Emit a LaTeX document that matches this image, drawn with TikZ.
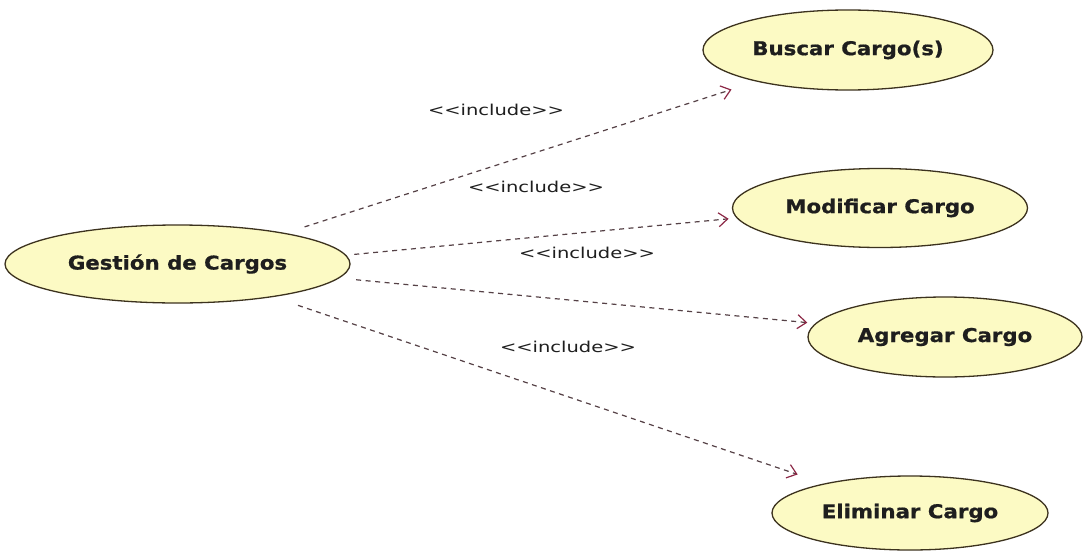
\documentclass[tikz,border=0pt]{standalone}
\usepackage{fontspec}
\usetikzlibrary{shapes.geometric,arrows.meta}
\newfontfamily\ucfont[FakeStretch=1.12,FakeBold=0.8]{DejaVu Sans Bold}
\newfontfamily\lblfont[FakeStretch=1.3]{DejaVu Sans}
\definecolor{ucfill}{RGB}{252,250,196}
\definecolor{ucdraw}{RGB}{60,50,30}
\definecolor{dep}{RGB}{85,65,70}
\definecolor{tipc}{RGB}{140,40,70}
\definecolor{txt}{RGB}{30,30,30}
\tikzset{
  usecase/.style={ellipse, draw=ucdraw, fill=ucfill, line width=1.3pt, inner sep=0pt,
    font=\ucfont\fontsize{19}{22}\selectfont, text=txt},
  incl/.style={draw=dep, line width=1.2pt, dash pattern=on 5pt off 4.5pt,
    -{Straight Barb[length=9pt,width=14pt,line width=1.2pt,color=tipc]}},
  lbl/.style={font=\lblfont\fontsize{15}{17}\selectfont, text=txt, inner sep=0pt}
}
\begin{document}
\begin{tikzpicture}[x=1pt,y=-1pt]
\useasboundingbox[fill=white] (0,0) rectangle (1083,551);
\node[usecase, minimum width=345pt, minimum height=78pt] (g) at (177.5,264) {Gestión de Cargos};
\node[usecase, minimum width=290pt, minimum height=80pt] (b) at (848,50) {Buscar Cargo(s)};
\node[usecase, minimum width=295pt, minimum height=79pt] (m) at (880,208) {Modificar Cargo};
\node[usecase, minimum width=274pt, minimum height=80pt] (a) at (945,337) {Agregar Cargo};
\node[usecase, minimum width=276pt, minimum height=74pt] (e) at (910,513) {Eliminar Cargo};

\draw[incl, shorten <=20pt, shorten >=26pt] (g.16.5) -- (b.199.2);
\draw[incl, shorten <=8pt, shorten >=8pt] (g.3.9) -- (m.184.6);
\draw[incl, shorten <=17pt, shorten >=8pt] (g.-5.9) -- (a.174.2);
\draw[incl, shorten <=26pt, shorten >=28pt] (g.-19.7) -- (e.161.4);

\node[lbl] (l1) at (496,110) {<<include>>};
\node[lbl] (l2) at (536,187) {<<include>>};
\node[lbl] (l3) at (587,253) {<<include>>};
\node[lbl] (l4) at (568,347) {<<include>>};
\end{tikzpicture}
\end{document}
